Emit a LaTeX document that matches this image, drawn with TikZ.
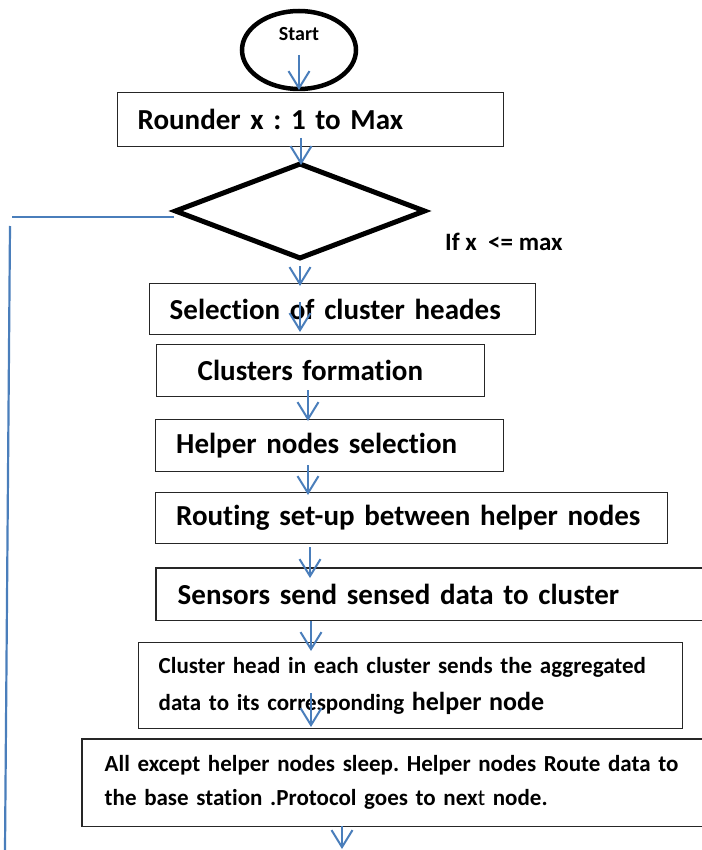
\documentclass[tikz,border=0pt]{standalone}
\usepackage{fontspec}
\setmainfont{Carlito}[Ligatures=NoCommon]
\usetikzlibrary{shapes.geometric,arrows.meta}
\definecolor{conblue}{HTML}{4A7EBB}
\frenchspacing
\begin{document}
\begin{tikzpicture}[x=1pt,y=-1pt,
  conn/.style={draw=conblue,line width=2pt,-{Straight Barb[length=17pt,width=21pt]}},
  loopline/.style={draw=conblue,line width=2.2pt},
  boxline/.style={draw=black!85,line width=1.4pt},
  boxnode/.style={rectangle,boxline,anchor=north west,align=left,inner ysep=0pt,
    font=\bfseries\fontsize{29}{34}\selectfont},
  openbox/.style={boxnode,draw=none},
  smalltxt/.style={font=\bfseries\fontsize{23}{37}\selectfont}]
\useasboundingbox (0,0) rectangle (701,850);

% start ellipse
\node[ellipse,draw=black,line width=4.5pt,minimum width=114pt,minimum height=78pt,inner sep=0pt,
  text depth=32pt,font=\bfseries\fontsize{20}{22}\selectfont] (start) at (299,50) {Start};

% boxes
\node[boxnode,minimum width=386pt,minimum height=54pt,text width=346pt,inner xsep=20pt] (rounder) at (117,92) {Rounder x : 1 to Max};

\node[diamond,draw=black,line width=5pt,minimum width=251pt,minimum height=96pt,inner sep=0pt] (dec) at (300,211) {};
\node[anchor=west,font=\bfseries\fontsize{25}{28}\selectfont,inner sep=0pt] (cond) at (445,242) {If x\ \ <= max};

\node[boxnode,minimum width=386pt,minimum height=51pt,text width=346pt,inner xsep=20pt] (sel) at (149,283) {Selection of cluster heades};
\node[boxnode,minimum width=328pt,minimum height=52pt,text width=246pt,inner xsep=41pt] (form) at (156,344) {Clusters formation};
\node[boxnode,minimum width=348pt,minimum height=52pt,text width=307pt,inner xsep=20.5pt] (helper) at (155,419) {Helper nodes selection};
\node[boxnode,minimum width=512pt,minimum height=51pt,text width=471pt,inner xsep=20.5pt] (route) at (155,492) {Routing set-up between helper nodes};
\node[openbox,minimum width=545pt,minimum height=51pt,text width=503pt,inner xsep=21pt] (sens) at (156,568) {Sensors send sensed data to cluster};
\draw[boxline] (sens.north east) -- (sens.north west) -- (sens.south west) -- (sens.south east);

\node[boxnode,smalltxt,minimum width=544pt,minimum height=86pt,text width=504pt,inner xsep=20pt] (chead) at (138,642)
  {Cluster head in each cluster sends the aggregated\\data to its corresponding {\fontsize{26}{37}\selectfont helper node}};

\node[openbox,minimum width=619pt,minimum height=86pt,text width=575pt,inner xsep=22pt,
  font=\bfseries\fontsize{23}{34}\selectfont] (last) at (82,739)
  {All except helper nodes sleep. Helper nodes Route data to\\the base station .Protocol goes to nex{\mdseries t} node.};
\draw[boxline] (last.north east) -- (last.north west) -- (last.south west) -- (last.south east);

% connector end points
\coordinate (a1s) at (299,55);  \coordinate (a1e) at (299,90);
\coordinate (a2s) at (301,138); \coordinate (a2e) at (301,165);
\coordinate (a3s) at (300,266); \coordinate (a3e) at (300,286);
\coordinate (a4s) at (300,302); \coordinate (a4e) at (300,332);
\coordinate (a5s) at (308,390); \coordinate (a5e) at (308,421);
\coordinate (a6s) at (308,465); \coordinate (a6e) at (308,495);
\coordinate (a7s) at (310,547); \coordinate (a7e) at (310,578);
\coordinate (a8s) at (311,621); \coordinate (a8e) at (311,651);
\coordinate (a9s) at (311,693); \coordinate (a9e) at (311,727);
\coordinate (a10s) at (342,826); \coordinate (a10e) at (342,849);

\draw[conn] (a1s) -- (a1e);
\draw[conn] (a2s) -- (a2e);
\draw[conn] (a3s) -- (a3e);
\draw[conn] (a4s) -- (a4e);
\draw[conn] (a5s) -- (a5e);
\draw[conn] (a6s) -- (a6e);
\draw[conn] (a7s) -- (a7e);
\draw[conn] (a8s) -- (a8e);
\draw[conn] (a9s) -- (a9e);
\draw[conn] (a10s) -- (a10e);

% loop-back lines
\coordinate (l1a) at (174,217); \coordinate (l1b) at (12,217);
\coordinate (l2a) at (10,226);  \coordinate (l2b) at (5,850);
\draw[loopline] (l1a) -- (l1b);
\draw[loopline] (l2a) -- (l2b);
\end{tikzpicture}
\end{document}
